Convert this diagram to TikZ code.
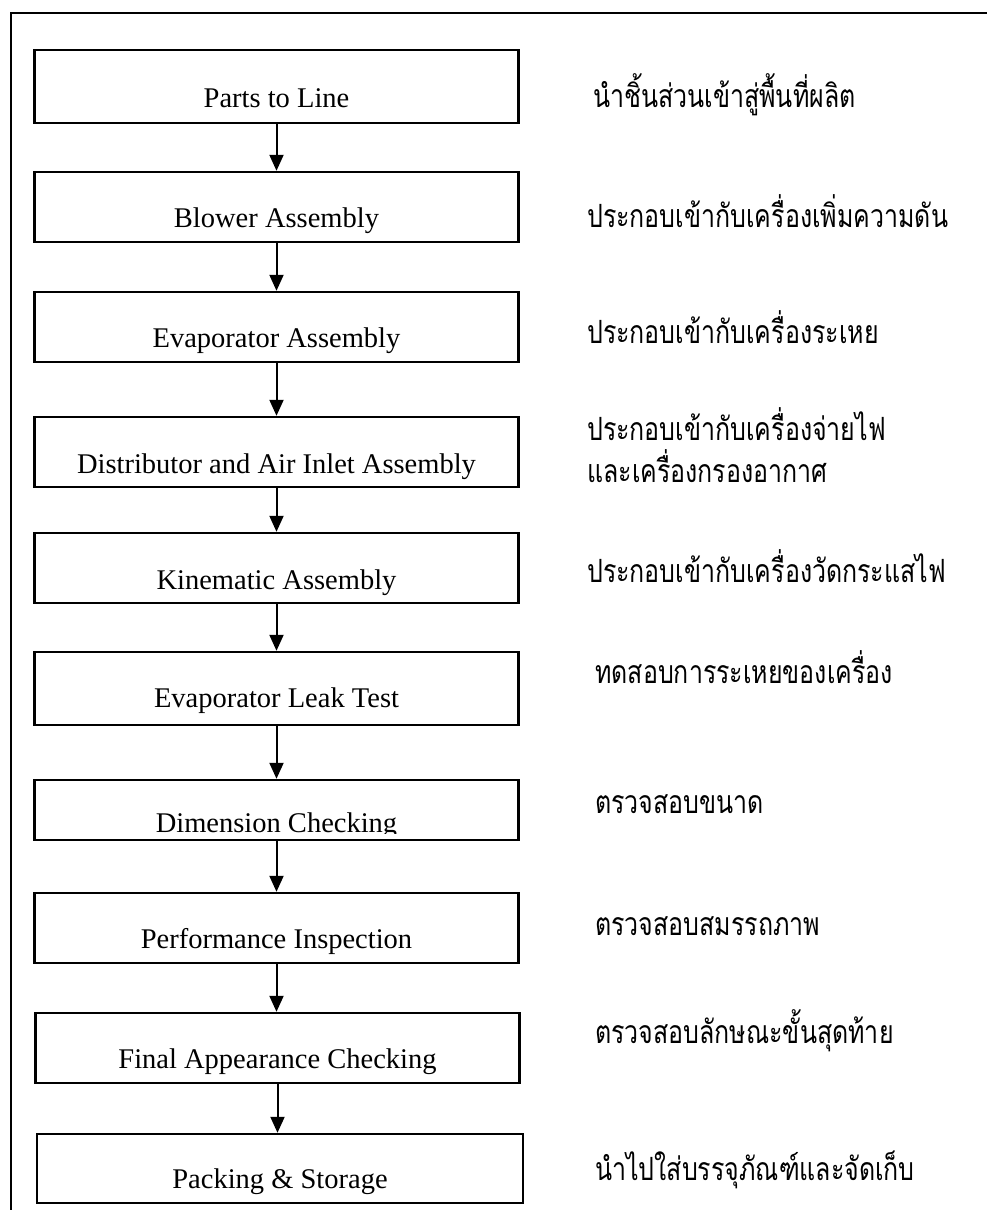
\documentclass[tikz,border=0pt]{standalone}
\usepackage{fontspec}
\setmainfont{Liberation Serif}
\newfontfamily\thaifont[Script=Thai,FakeStretch=0.78]{Loma}
\usetikzlibrary{arrows.meta}
\begin{document}
\begin{tikzpicture}[x=1pt, y=-1pt,
  stepbox/.style={draw, line width=2.4pt, minimum width=484pt, inner sep=0pt},
  boxtext/.style={anchor=base, font=\fontsize{28.5}{34}\selectfont, inner sep=0pt},
  note/.style={anchor=base west, font=\thaifont\fontsize{32}{38}\selectfont, inner sep=0pt},
  flow/.style={line width=2pt, -{Triangle[length=16pt, width=14pt]}}]
\useasboundingbox (0,0) rectangle (987,1210);
% outer frame (open at right and bottom)
\draw[line width=2.6pt] (987,13) -- (11,13) -- (11,1210);

% process boxes
\node[stepbox, minimum height=73pt] (b1) at (276.5,86.5) {};
\node[stepbox, minimum height=70pt] (b2) at (276.5,207) {};
\node[stepbox, minimum height=70pt] (b3) at (276.5,327) {};
\node[stepbox, minimum height=70pt] (b4) at (276.5,452) {};
\node[stepbox, minimum height=70pt] (b5) at (276.5,568) {};
\node[stepbox, minimum height=73pt] (b6) at (276.5,688.5) {};
\node[stepbox, minimum height=60pt] (b7) at (276.5,810) {};
\node[stepbox, minimum height=70pt] (b8) at (276.5,928) {};
\node[stepbox, minimum height=70pt] (b9) at (277.5,1048) {};
\node[stepbox, minimum height=69pt, minimum width=486pt] (b10) at (280,1168.5) {};

% box captions
\node[boxtext] (t1) at (276.5,107) {Parts to Line};
\node[boxtext] (t2) at (276.5,227) {Blower Assembly};
\node[boxtext] (t3) at (276.5,347) {Evaporator Assembly};
\node[boxtext] (t4) at (276.5,473) {Distributor and Air Inlet Assembly};
\node[boxtext] (t5) at (276.5,589) {Kinematic Assembly};
\node[boxtext] (t6) at (276.5,707) {Evaporator Leak Test};
\begin{scope}
  \clip (40,784) rectangle (514,833);
  \node[boxtext] (t7) at (276.5,832) {Dimension Checking};
\end{scope}
\node[boxtext] (t8) at (276.5,948) {Performance Inspection};
\node[boxtext] (t9) at (277.5,1068) {Final Appearance Checking};
\node[boxtext] (t10) at (280,1188) {Packing \& Storage};

% Thai descriptions
\node[note] (n1) at (593,107) {นำชิ้นส่วนเข้าสู่พื้นที่ผลิต};
\node[note] (n2) at (587,227) {ประกอบเข้ากับเครื่องเพิ่มความดัน};
\node[note] (n3) at (587,343) {ประกอบเข้ากับเครื่องระเหย};
\node[note] (n4a) at (587,440) {ประกอบเข้ากับเครื่องจ่ายไฟ};
\node[note] (n4b) at (587,482) {และเครื่องกรองอากาศ};
\node[note] (n5) at (587,582) {ประกอบเข้ากับเครื่องวัดกระแสไฟ};
\node[note] (n6) at (595,683) {ทดสอบการระเหยของเครื่อง};
\node[note] (n7) at (595,813) {ตรวจสอบขนาด};
\node[note] (n8) at (595,935) {ตรวจสอบสมรรถภาพ};
\node[note] (n9) at (595,1043) {ตรวจสอบลักษณะขั้นสุดท้าย};
\node[note] (n10) at (595,1180) {นำไปใส่บรรจุภัณฑ์และจัดเก็บ};

% flow arrows
\foreach \a/\b in {b1/b2,b2/b3,b3/b4,b4/b5,b5/b6,b6/b7,b7/b8,b8/b9,b9/b10}
  \draw[flow] (\a.south) -- (\a.south |- \b.north);
\end{tikzpicture}
\end{document}
